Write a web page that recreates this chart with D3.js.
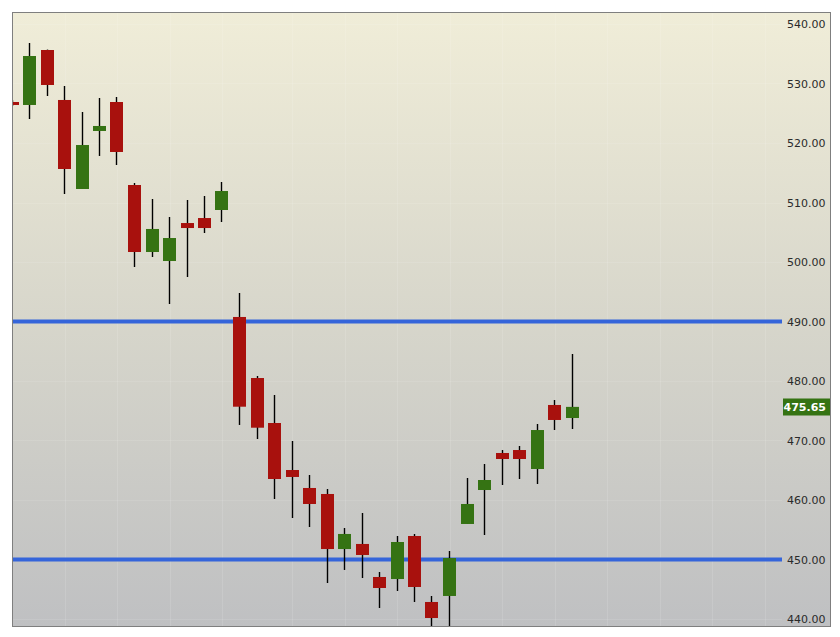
<!DOCTYPE html>
<html>
<head>
<meta charset="utf-8">
<script src="https://cdn.jsdelivr.net/npm/d3@7/dist/d3.min.js"></script>
<style>
  html, body { margin: 0; padding: 0; background: #ffffff; }
  svg { display: block; }
</style>
</head>
<body>
<svg id="chart" width="840" height="637"></svg>
<script>
// ---- Data ----
const candleIndex = [0,1,2,3,4,5,6,7,8,9,10,11,12,13,14,15,16,17,18,19,20,21,22,23,24,25,26,27,28,29,30,31,32];
const openValues  = [526.89,526.39,535.63,527.23,512.27,522.02,526.89,512.94,501.68,500.17,506.55,507.39,508.74,490.76,480.50,472.94,465.04,462.02,461.01,451.76,452.61,447.06,446.72,453.95,442.86,443.87,455.97,461.68,467.90,468.40,465.21,475.97,473.78];
const highValues  = [527.20,536.81,535.70,529.58,525.21,527.56,527.73,513.28,510.59,507.56,510.42,511.09,513.45,494.79,480.84,477.65,469.92,464.20,461.85,455.29,457.82,447.90,453.95,454.29,443.87,451.43,463.70,466.05,468.40,469.08,472.77,476.81,484.54];
const lowValues   = [526.20,524.03,527.90,511.43,512.27,517.82,516.30,499.16,500.84,492.94,497.48,504.87,506.72,472.61,470.25,460.17,456.97,455.46,446.05,448.24,446.89,441.85,444.71,442.86,438.60,438.00,455.97,454.12,462.52,463.53,462.69,471.76,471.93];
const closeValues = [526.39,534.62,529.75,515.63,519.66,522.86,518.49,501.68,505.55,504.03,505.71,505.71,511.93,475.68,472.15,463.53,463.87,459.33,451.76,454.29,450.76,445.21,452.94,445.38,440.17,450.25,459.33,463.36,466.89,466.89,471.76,473.45,475.65];
const yTickValues = [440,450,460,470,480,490,500,510,520,530,540];
const levelLines  = [490, 450];
const lastPrice   = 475.65;
const gridIndex   = [3,6,9,12,16,19,22,25,28,31,34,37,40,43];

const candles = candleIndex.map((i, k) => ({
  i, o: openValues[k], h: highValues[k], l: lowValues[k], c: closeValues[k]
}));

// ---- Layout ----
const frame = {x0: 12, y0: 12, x1: 831, y1: 627};
const plotRight = 782;
const svg = d3.select("#chart");

const x = d3.scaleLinear().domain([0, 44]).range([12, 782]);
const y = d3.scaleLinear().domain([440, 540]).range([619, 24]);

const UP = "#357313", DOWN = "#a8110d", BLUE = "#3565da";

// Background gradient
const defs = svg.append("defs");
const grad = defs.append("linearGradient").attr("id", "bg")
  .attr("x1", 0).attr("y1", 0).attr("x2", 0).attr("y2", 1);
grad.append("stop").attr("offset", "0%").attr("stop-color", "#f0edd8");
grad.append("stop").attr("offset", "50%").attr("stop-color", "#d7d6cb");
grad.append("stop").attr("offset", "100%").attr("stop-color", "#bfc0c2");

defs.append("clipPath").attr("id", "plotClip")
  .append("rect").attr("x", frame.x0).attr("y", frame.y0)
  .attr("width", plotRight - frame.x0).attr("height", frame.y1 - frame.y0);

svg.append("rect")
  .attr("x", frame.x0).attr("y", frame.y0)
  .attr("width", frame.x1 - frame.x0).attr("height", frame.y1 - frame.y0)
  .attr("fill", "url(#bg)");

// Gridlines (very faint)
const grid = svg.append("g");
grid.selectAll("line.v").data(gridIndex).join("line")
  .attr("class", "v")
  .attr("x1", d => Math.round(x(d)) + 0.5).attr("x2", d => Math.round(x(d)) + 0.5)
  .attr("y1", frame.y0).attr("y2", frame.y1)
  .attr("stroke", "#ffffff").attr("stroke-opacity", 0.12).attr("stroke-width", 1);
grid.selectAll("line.h").data(yTickValues).join("line")
  .attr("class", "h")
  .attr("x1", frame.x0).attr("x2", plotRight)
  .attr("y1", d => Math.round(y(d)) + 0.5).attr("y2", d => Math.round(y(d)) + 0.5)
  .attr("stroke", "#ffffff").attr("stroke-opacity", 0.1).attr("stroke-width", 1);

// Level lines
svg.append("g").selectAll("line").data(levelLines).join("line")
  .attr("x1", frame.x0).attr("x2", plotRight)
  .attr("y1", d => y(d)).attr("y2", d => y(d))
  .attr("stroke", BLUE).attr("stroke-width", 4);

// Candles
const cg = svg.append("g").attr("clip-path", "url(#plotClip)");
const bodyW = 13;
cg.selectAll("line.wick").data(candles).join("line")
  .attr("class", "wick")
  .attr("x1", d => Math.floor(x(d.i)) + 0.5).attr("x2", d => Math.floor(x(d.i)) + 0.5)
  .attr("y1", d => y(d.h)).attr("y2", d => y(d.l))
  .attr("stroke", "#000000").attr("stroke-width", 1.4);
cg.selectAll("rect.body").data(candles).join("rect")
  .attr("class", "body")
  .attr("x", d => Math.round(x(d.i) - bodyW / 2))
  .attr("width", bodyW)
  .attr("y", d => y(Math.max(d.o, d.c)))
  .attr("height", d => Math.max(2, Math.abs(y(d.o) - y(d.c))))
  .attr("fill", d => d.c >= d.o ? UP : DOWN);

// Right axis
const axis = d3.axisRight(y).tickValues(yTickValues).tickSize(0)
  .tickFormat(d3.format(".2f"));
const ag = svg.append("g").attr("transform", `translate(${plotRight},0)`).call(axis);
ag.select(".domain").remove();
ag.selectAll("text")
  .attr("x", 825.5 - plotRight).attr("text-anchor", "end")
  .attr("font-family", "DejaVu Sans, sans-serif").attr("font-size", 11)
  .attr("fill", "#2a2a2a").attr("dy", "0.35em");

// Last price marker
const ly = y(lastPrice);
svg.append("rect")
  .attr("x", 783).attr("y", Math.round(ly) - 8.5).attr("width", 47).attr("height", 17)
  .attr("fill", UP);
svg.append("text")
  .attr("x", 826).attr("y", ly).attr("dy", "0.36em")
  .attr("text-anchor", "end")
  .attr("font-family", "DejaVu Sans, sans-serif").attr("font-size", 11)
  .attr("font-weight", "bold").attr("fill", "#ffffff")
  .text(d3.format(".2f")(lastPrice));

// Frame
svg.append("rect")
  .attr("x", frame.x0 + 0.5).attr("y", frame.y0 + 0.5)
  .attr("width", frame.x1 - frame.x0 - 1).attr("height", frame.y1 - frame.y0 - 1)
  .attr("fill", "none").attr("stroke", "#7f7f7f").attr("stroke-width", 1);
</script>
</body>
</html>
